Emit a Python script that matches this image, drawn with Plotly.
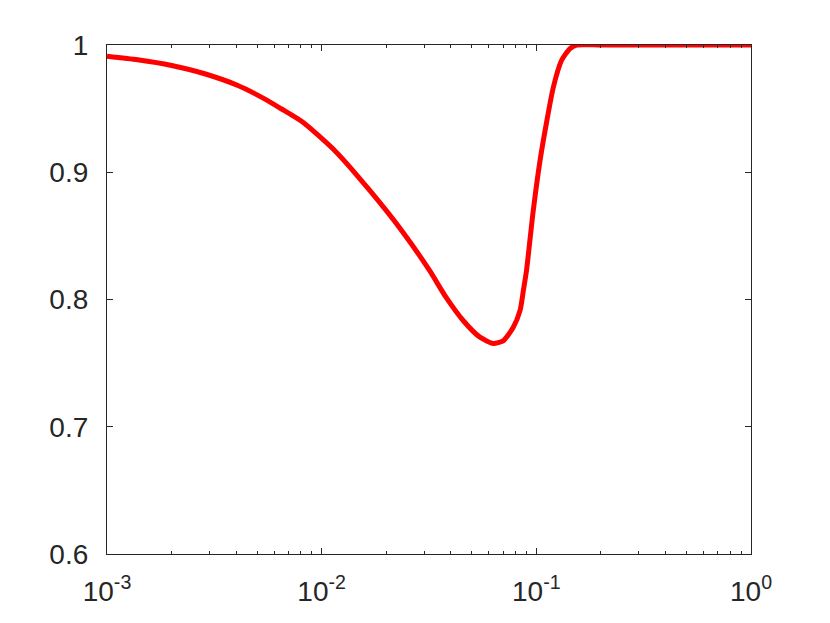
import plotly.graph_objects as go

# values (log-scaled x)
x_vals = [0.001, 0.00139, 0.002, 0.00285, 0.00407, 0.00542, 0.00648, 0.00818,
          0.0117, 0.01675, 0.0239, 0.0318, 0.038, 0.0456, 0.0546, 0.063,
          0.07, 0.078, 0.084, 0.087, 0.09, 0.0966, 0.104, 0.112, 0.12,
          0.131, 0.143, 0.154, 0.2, 0.5, 1.0]
y_vals = [0.9912, 0.9884, 0.9839, 0.9774, 0.9682, 0.9577, 0.9499, 0.9393,
          0.9158, 0.8857, 0.8529, 0.8228, 0.8016, 0.7835, 0.7704, 0.7655,
          0.7675, 0.778, 0.7914, 0.807, 0.8228, 0.869, 0.909, 0.9407, 0.9668,
          0.9878, 0.997, 1.0, 1.0, 1.0, 1.0]

x_ticks = [0.001, 0.01, 0.1, 1]
x_tick_text = ['10<sup>-3</sup>', '10<sup>-2</sup>', '10<sup>-1</sup>', '10<sup>0</sup>']
x_minor_ticks = [m * d for d in (0.001, 0.01, 0.1) for m in range(2, 10)]
y_ticks = [0.6, 0.7, 0.8, 0.9, 1.0]
y_tick_text = ['0.6', '0.7', '0.8', '0.9', '1']

axis_color = '#262626'
tick_font = dict(family='Liberation Sans, Arial', size=28, color=axis_color)

fig = go.Figure()

fig.add_trace(go.Scatter(
    x=x_vals,
    y=y_vals,
    mode='lines',
    line=dict(color='#ff0000', width=5, shape='spline', smoothing=0.6),
    cliponaxis=False,
    showlegend=False
))

fig.update_xaxes(
    type='log',
    range=[-3, 0],
    tickvals=x_ticks,
    ticktext=x_tick_text,
    ticks='inside',
    ticklen=6,
    tickwidth=1,
    tickcolor=axis_color,
    minor=dict(ticks='inside', ticklen=3, tickmode='array',
               tickvals=x_minor_ticks, tickcolor=axis_color, showgrid=False),
    showline=True,
    linecolor=axis_color,
    linewidth=1.2,
    mirror='ticks',
    showgrid=False,
    zeroline=False,
    ticklabelstandoff=12,
    tickfont=tick_font
)

fig.update_yaxes(
    range=[0.6, 1.0],
    tickvals=y_ticks,
    ticktext=y_tick_text,
    ticks='inside',
    ticklen=6,
    tickwidth=1,
    tickcolor=axis_color,
    showline=True,
    linecolor=axis_color,
    linewidth=1.2,
    mirror='ticks',
    showgrid=False,
    zeroline=False,
    ticklabelstandoff=12,
    tickfont=tick_font
)

# the page body adds 8px, so margins are shifted to keep the box in place
fig.update_layout(
    width=830,
    height=623,
    template='plotly_white',
    plot_bgcolor='white',
    paper_bgcolor='white',
    margin=dict(l=99, r=87, t=37, b=77)
)

fig.write_html("out.html")
